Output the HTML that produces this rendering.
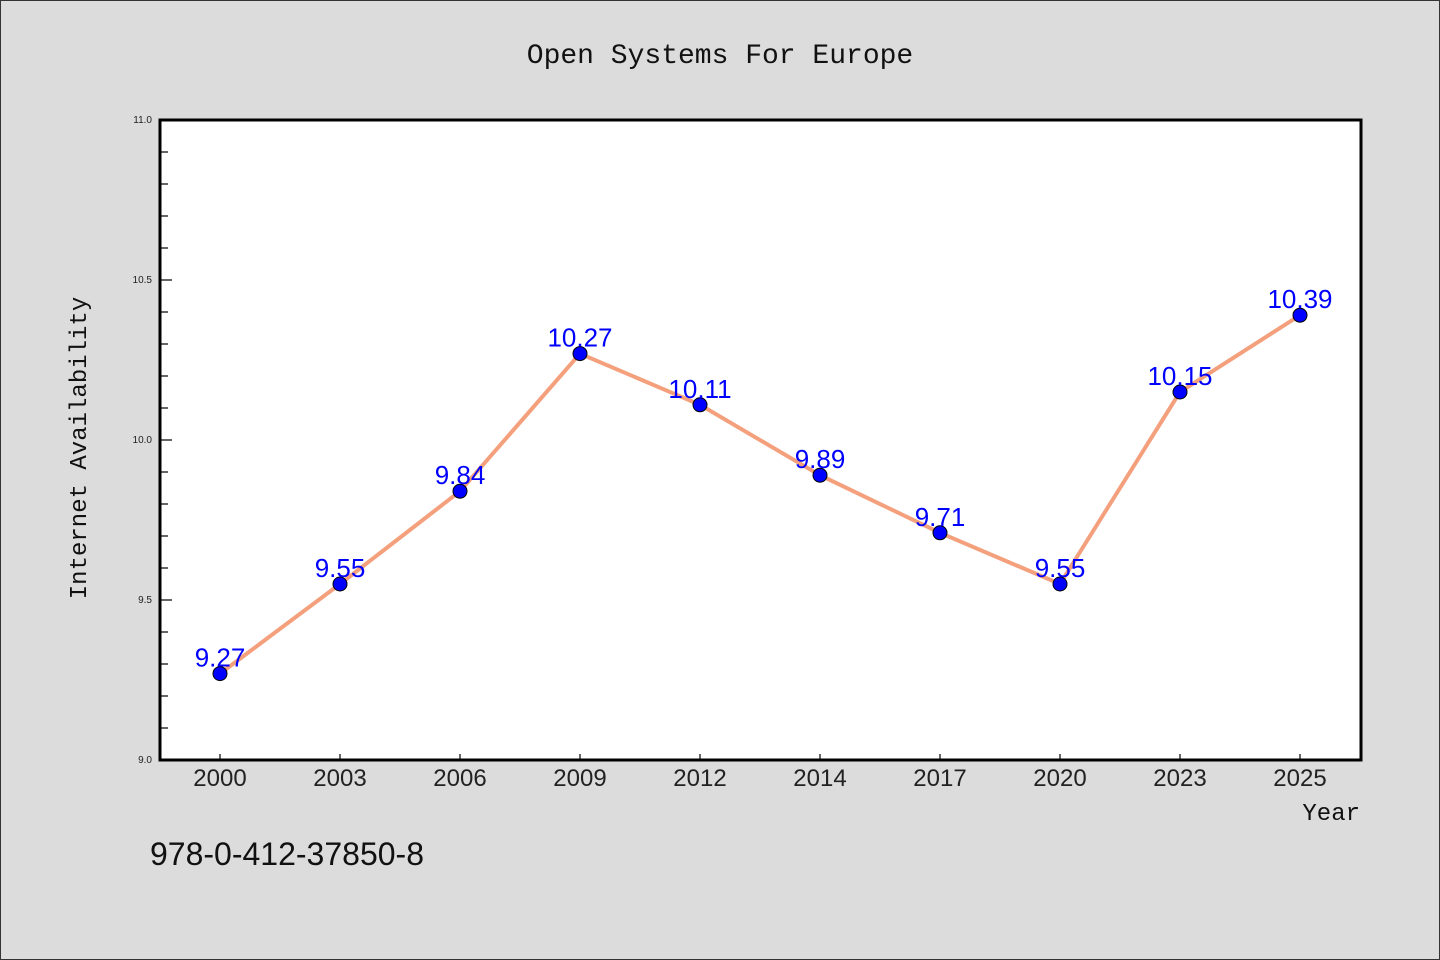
<!DOCTYPE html>
<html><head><meta charset="utf-8"><style>
html,body{margin:0;padding:0;background:#dcdcdc;}
svg{display:block;}
text{font-family:"WenQuanYi Zen Hei","Liberation Sans",sans-serif;}
</style></head><body>
<svg id="chart" width="1440" height="960" viewBox="0 0 1440 960">
<rect x="0.5" y="0.5" width="1439" height="959" fill="#dcdcdc" stroke="#333" stroke-width="1"/>
<text x="720" y="63" text-anchor="middle" font-size="28" fill="#111" style="font-family:'Liberation Mono',monospace">Open Systems For Europe</text>
<rect x="160" y="120" width="1201" height="640" fill="#fff"/>
<g id="grid"></g>
<g id="series"></g>
<rect x="160" y="120" width="1201" height="640" fill="none" stroke="#000" stroke-width="3"/>
<text x="86" y="448" text-anchor="middle" font-size="24" fill="#111" transform="rotate(-90 86 448)" style="font-family:'Liberation Mono',monospace">Internet Availability</text>
<text x="1360" y="820" text-anchor="end" font-size="24" fill="#111" style="font-family:'Liberation Mono',monospace">Year</text>
<text x="150" y="865" font-size="32" fill="#111">978-0-412-37850-8</text>
</svg>
<script>
const categories=["2000","2003","2006","2009","2012","2014","2017","2020","2023","2025"];
const values=[9.27,9.55,9.84,10.27,10.11,9.89,9.71,9.55,10.15,10.39];
const yTicks=[9.0,9.5,10.0,10.5,11.0];
const yTickLabels=["9.0","9.5","10.0","10.5","11.0"];
const NS="http://www.w3.org/2000/svg";
const L=160,R=1361,T=120,B=760,yMin=9,yMax=11;
const xs=i=>220+i*(1300-220)/(categories.length-1);
const ys=v=>B-(v-yMin)/(yMax-yMin)*(B-T);
function mk(t,a,p){const e=document.createElementNS(NS,t);for(const k in a)e.setAttribute(k,a[k]);p.appendChild(e);return e;}
const g=document.getElementById('grid'),s=document.getElementById('series');
for(let v=yMin;v<=yMax+1e-9;v+=0.1){
  const major=Math.abs(v*2-Math.round(v*2))<1e-6;
  const t=mk('line',{x1:L,x2:L+(major?12:8),y1:ys(v),y2:ys(v),stroke:'#000','stroke-width':1.2},g);
  
  
}
yTicks.forEach((v,i)=>{
  const t=mk('text',{x:L-8,y:ys(v)+3,'text-anchor':'end','font-size':10,fill:'#222'},g);
  t.textContent=yTickLabels[i];
  
  
});
categories.forEach((c,i)=>{
  const t=mk('line',{x1:xs(i),x2:xs(i),y1:B,y2:B-6,stroke:'#000','stroke-width':1.2},g);
  
  
  const l=mk('text',{x:xs(i),y:B+26,'text-anchor':'middle','font-size':24,fill:'#222'},g);
  l.textContent=c;
  
  
});
const line=mk('polyline',{points:values.map((v,i)=>xs(i)+','+ys(v)).join(' '),fill:'none',stroke:'#f4a07c','stroke-width':4},s);


values.forEach((v,i)=>{
  const c=mk('circle',{cx:xs(i),cy:ys(v),r:7,fill:'#0000ff',stroke:'#000','stroke-width':1},s);
  
  
  const t=mk('text',{x:xs(i),y:ys(v)-7,'text-anchor':'middle','font-size':26,fill:'#0000ff'},s);
  t.textContent=v.toFixed(2);
  
  
});
</script>
</body></html>
